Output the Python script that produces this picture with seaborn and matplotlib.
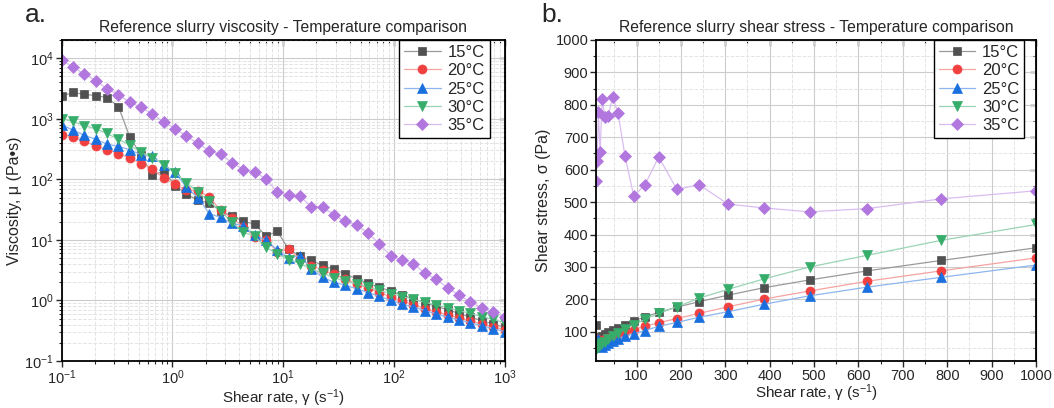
import numpy as np
import pandas as pd
import matplotlib
matplotlib.use('Agg')
import matplotlib.pyplot as plt
from matplotlib.ticker import MultipleLocator, LogLocator, NullFormatter
import seaborn as sns

#---------------------------------------------------------
# shear rates (s^-1), 40 log spaced points 0.1 .. 1000
shear=[0.1, 0.127, 0.16, 0.203, 0.257, 0.326, 0.412, 0.522, 0.661, 0.837,
	1.06, 1.34, 1.70, 2.15, 2.72, 3.45, 4.37, 5.53, 7.00, 8.86,
	11.2, 14.2, 18.0, 22.8, 28.8, 36.5, 46.2, 58.5, 74.1, 93.9,
	119, 150, 191, 241, 306, 387, 490, 620, 786, 1000]

# viscosity (Pa s), panel a
visc_15=[2350, 2725, 2530, 2410, 2240, 1580, 499, 250, 117, 136,
	79, 57, 45, 41, 30, 25, 20.2, 18.3, 11.6, 13.8,
	7.0, 5.4, 4.58, 3.8, 3.25, 2.72, 2.28, 1.91, 1.65, 1.42,
	1.23, 1.06, 0.92, 0.80, 0.70, 0.61, 0.53, 0.465, 0.408, 0.36]
visc_20=[545, 507, 425, 357, 308, 266, 224, 181, 150, 104,
	83, 66, 65, 51, 31, 22.6, 16.6, 11.2, 10.1, 6.4,
	7.0, 4.8, 3.77, 3.16, 2.70, 2.24, 1.88, 1.59, 1.35, 1.14,
	0.98, 0.85, 0.73, 0.65, 0.58, 0.52, 0.46, 0.41, 0.367, 0.328]
visc_25=[800, 647, 532, 458, 381, 350, 308, 253, 241, 170,
	130, 73.5, 50, 27.2, 23.5, 18.8, 17.0, 12, 9.9, 6.8,
	5.0, 5.5, 3.32, 2.4, 2.0, 1.78, 1.56, 1.35, 1.17, 1.0,
	0.87, 0.78, 0.68, 0.60, 0.53, 0.477, 0.43, 0.384, 0.341, 0.306]
visc_30=[1000, 903, 771, 682, 573, 458, 367, 280, 228, 175,
	128, 88.5, 61, 43.7, 30.1, 19.5, 13.4, 11.5, 7.5, 5.9,
	4.7, 4.06, 3.32, 2.80, 2.38, 2.08, 1.88, 1.66, 1.46, 1.30,
	1.16, 1.04, 0.93, 0.85, 0.755, 0.68, 0.61, 0.54, 0.486, 0.431]
visc_35=[9180, 7160, 5460, 4260, 3130, 2500, 1860, 1545, 1190, 885,
	682, 513, 395, 294, 260, 188, 145, 133, 101, 61.7,
	54.6, 52.6, 35.3, 35.3, 25.6, 20.2, 17.5, 13.0, 8.53, 5.46,
	4.63, 4.06, 2.80, 2.26, 1.60, 1.236, 0.94, 0.762, 0.647, 0.538]

# shear stress (Pa), panel b, from 8.86 s^-1 upward
rate_b=shear[19:]
stress_15=[122, 80, 77, 83, 88, 94, 100, 106, 112, 122, 133, 146, 160, 176, 193, 213, 236, 260, 288, 320, 359]
stress_20=[57, 78, 68, 68, 72, 78, 82, 87, 93, 100, 107, 117, 128, 141, 157, 177, 201, 226, 256, 288, 328]
stress_25=[60, 56, 78, 60, 54, 58, 65, 72, 79, 87, 94, 104, 117, 129, 145, 162, 185, 211, 238, 268, 306]
stress_30=[48, 50, 54, 58, 64, 70, 77, 87, 97, 108, 122, 138, 157, 177, 204, 231, 263, 300, 336, 382, 431]
stress_35=[566, 627, 777, 654, 819, 762, 765, 825, 774, 642, 518, 554, 639, 539, 554, 494, 482, 470, 480, 510, 535]

l_temp=['15°C', '20°C', '25°C', '30°C', '35°C']
l_visc=[visc_15, visc_20, visc_25, visc_30, visc_35]
l_stress=[stress_15, stress_20, stress_25, stress_30, stress_35]
l_mk=['s', 'o', '^', 'v', 'D']
l_ms=[5.5, 6.5, 6.5, 6.5, 6]
cmap=['#515151', '#F14040', '#1A6FDF', '#37AD6B', '#B177DE']
cmap_line=['#9a9a9a', '#f6a3a3', '#8db5ee', '#9ad4b4', '#d9bdf0']

#--------------------------------------------------------
sns.set_style('ticks')
plt.rcParams['font.family']=['Liberation Sans', 'DejaVu Sans']
plt.rcParams['mathtext.fontset']='custom'
plt.rcParams['mathtext.rm']='Liberation Sans'
plt.rcParams['mathtext.it']='Liberation Sans:italic'

fig=plt.figure(figsize=(10.54, 4.08), dpi=100)
ax1=fig.add_axes([0.0585, 0.1152, 0.4203, 0.7868])
ax2=fig.add_axes([0.5655, 0.1152, 0.4175, 0.7868])

def draw(ax, x, l_y):
	for y, lab, mk, ms, c, cl in zip(l_y, l_temp, l_mk, l_ms, cmap, cmap_line):
		dfi=pd.DataFrame({'x':x, 'y':y})
		sns.lineplot(data=dfi, x='x', y='y', ax=ax, color=cl, lw=0.9, marker=mk, ms=ms,
			markerfacecolor=c, markeredgecolor=c, markeredgewidth=0.5, label=lab, legend=False)
	ax.legend(loc='upper right', fontsize=12, frameon=True, fancybox=False, framealpha=1,
		edgecolor='black', handlelength=2.2, labelspacing=0.2, borderpad=0.3,
		handletextpad=0.4, borderaxespad=0)

def style(ax):
	ax.grid(which='major', color='#cccccc', lw=0.8, ls='-')
	ax.grid(which='minor', color='#e3e3e3', lw=0.7, ls='--')
	ax.set_axisbelow(True)
	for s in ax.spines.values():
		s.set_linewidth(1.3)
		s.set_color('black')
	ax.tick_params(which='major', direction='out', length=4, width=1, pad=1.5, labelsize=10.5, top=False, right=False)
	ax.tick_params(which='minor', direction='out', length=2.5, width=0.8, top=False, right=False)

def sec_ticks(ax, log):
	for side, axis in [('top', 'x'), ('right', 'y')]:
		sec=ax.secondary_xaxis(side) if axis=='x' else ax.secondary_yaxis(side)
		sec.tick_params(which='major', direction='in', length=4, width=1)
		sec.tick_params(which='minor', direction='in', length=2.5, width=0.8)
		sec.tick_params(labeltop=False, labelright=False)
		axx=getattr(sec, f'{axis}axis')
		if log:
			axx.set_minor_locator(LogLocator(base=10, subs=np.arange(2, 10)))
			axx.set_minor_formatter(NullFormatter())
		else:
			axx.set_major_locator(MultipleLocator(100))
			axx.set_minor_locator(MultipleLocator(50))

#plot a
draw(ax1, shear, l_visc)
ax1.set_xscale('log')
ax1.set_yscale('log')
ax1.set_xlim(0.1, 1000)
ax1.set_ylim(0.1, 2e4)
ax1.xaxis.set_minor_locator(LogLocator(base=10, subs=np.arange(2, 10)))
ax1.yaxis.set_minor_locator(LogLocator(base=10, subs=np.arange(2, 10)))
ax1.xaxis.set_minor_formatter(NullFormatter())
ax1.yaxis.set_minor_formatter(NullFormatter())
style(ax1)
ax1.set_title('Reference slurry viscosity - Temperature comparison', fontsize=11.3, pad=6)
ax1.set_xlabel('Shear rate, γ (s$^{-1}$)', fontsize=11, labelpad=0)
ax1.set_ylabel('Viscosity, μ (Pa•s)', fontsize=11.5, labelpad=2)
ax1.legend_.set_bbox_to_anchor((0.966, 1.0))
sec_ticks(ax1, True)

#plot b
draw(ax2, rate_b, l_stress)
ax2.set_xlim(8.86, 1000)
ax2.set_ylim(10, 1000)
ax2.xaxis.set_major_locator(MultipleLocator(100))
ax2.xaxis.set_minor_locator(MultipleLocator(50))
ax2.yaxis.set_major_locator(MultipleLocator(100))
ax2.yaxis.set_minor_locator(MultipleLocator(50))
style(ax2)
ax2.set_title('Reference slurry shear stress - Temperature comparison', fontsize=11.3, pad=6)
ax2.set_xlabel('Shear rate, γ (s$^{-1}$)', fontsize=11, labelpad=0)
ax2.set_ylabel('Shear stress, σ (Pa)', fontsize=11.5, labelpad=3)
ax2.legend_.set_bbox_to_anchor((0.973, 1.0))
sec_ticks(ax2, False)

fig.text(0.024, 0.945, 'a.', fontsize=19)
fig.text(0.514, 0.945, 'b.', fontsize=19)

plt.savefig('out.png', dpi=100)
plt.close()
